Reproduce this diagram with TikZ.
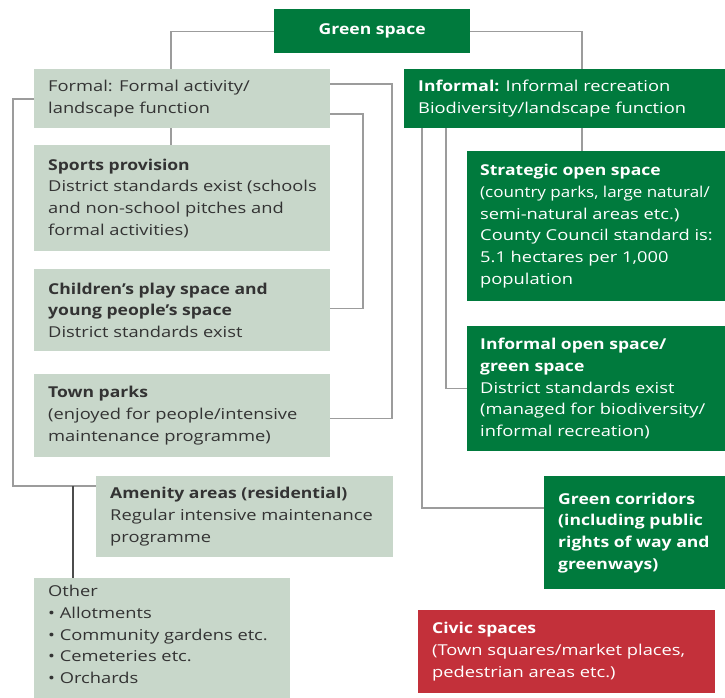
\documentclass[tikz,border=0pt]{standalone}
\usepackage{fontspec}
\setmainfont{Open Sans}[FakeStretch=1.22, BoldFeatures={FakeStretch=1.17}]
\definecolor{dg}{HTML}{007A3D}
\definecolor{lg}{HTML}{C8D7CA}
\definecolor{rd}{HTML}{C3303A}
\definecolor{tx}{HTML}{333333}
\definecolor{ln}{HTML}{9C9C9C}
\begin{document}
\begin{tikzpicture}[x=1pt,y=-1pt,
  boxL/.style={fill=lg, draw=none, inner sep=0, anchor=north west},
  boxG/.style={fill=dg, draw=none, inner sep=0, anchor=north west},
  boxR/.style={fill=rd, draw=none, inner sep=0, anchor=north west},
  txt/.style={anchor=west, align=left, inner sep=0, font=\fontsize{15}{21.7}\selectfont},
  txtL/.style={txt, text=tx},
  txtW/.style={txt, text=white},
  conn/.style={draw=ln, line width=1.3pt},
  connD/.style={draw=black!70, line width=1.8pt}]
\useasboundingbox (0,0) rectangle (725,698);
\clip (0,0) rectangle (725,698);

% boxes
\node[boxG, minimum width=196, minimum height=44] (gs) at (274,9) {};
\node[boxL, minimum width=296, minimum height=59] (formal) at (34,69) {};
\node[boxL, minimum width=296, minimum height=106] (sports) at (34,145) {};
\node[boxL, minimum width=296, minimum height=82] (children) at (34,269) {};
\node[boxL, minimum width=296, minimum height=83] (town) at (34,374) {};
\node[boxL, minimum width=297, minimum height=81] (amenity) at (96,476) {};
\node[boxL, minimum width=256, minimum height=128] (other) at (34,578) {};
\node[boxG, minimum width=331, minimum height=59] (informal) at (404,69) {};
\node[boxG, minimum width=268, minimum height=150] (strategic) at (467,151) {};
\node[boxG, minimum width=268, minimum height=125] (ios) at (467,326) {};
\node[boxG, minimum width=191, minimum height=113] (gc) at (544,476) {};
\node[boxR, minimum width=297, minimum height=83] (civic) at (418,610) {};

% texts
\node[txtW, anchor=center, font=\fontsize{15}{21.7}\selectfont\bfseries] (gs-t) at (gs.center) {Green space};
\node[txtL] (formal-t) at ([xshift=14]formal.west) {Formal: Formal activity/\\landscape function};
\node[txtL] (sports-t) at ([xshift=14]sports.west) {\textbf{Sports provision}\\District standards exist (schools\\and non-school pitches and\\formal activities)};
\node[txtL] (children-t) at ([xshift=14]children.west) {\textbf{Children’s play space and}\\\textbf{young people’s space}\\District standards exist};
\node[txtL] (town-t) at ([xshift=14]town.west) {\textbf{Town parks}\\(enjoyed for people/intensive\\maintenance programme)};
\node[txtL] (amenity-t) at ([xshift=14]amenity.west) {\textbf{Amenity areas (residential)}\\Regular intensive maintenance\\programme};
\node[txtL, anchor=north west] (other-t) at ([xshift=14,yshift=-7]other.north west) {Other\\• Allotments\\• Community gardens etc.\\• Cemeteries etc.\\• Orchards};
\node[txtW] (informal-t) at ([xshift=14]informal.west) {\textbf{Informal:} Informal recreation\\Biodiversity/landscape function};
\node[txtW] (strategic-t) at ([xshift=13]strategic.west) {\textbf{Strategic open space}\\\scalebox{0.93}[1]{(country parks, large natural/}\\semi-natural areas etc.)\\County Council standard is:\\5.1 hectares per 1,000\\population};
\node[txtW] (ios-t) at ([xshift=13]ios.west) {\textbf{Informal open space/}\\\textbf{green space}\\District standards exist\\(managed for biodiversity/\\informal recreation)};
\node[txtW, font=\fontsize{15}{21.7}\selectfont\bfseries] (gc-t) at ([xshift=14]gc.west) {Green corridors\\(including public\\rights of way and\\greenways)};
\node[txtW] (civic-t) at ([xshift=14]civic.west) {\textbf{Civic spaces}\\(Town squares/market places,\\pedestrian areas etc.)};

% connector coordinates
\coordinate (jL) at (171,0);
\coordinate (jR) at (582,0);
\coordinate (r1) at (392,84);
\coordinate (r2) at (363,114);
\coordinate (lx) at (13,99);
\coordinate (am) at ([yshift=-10]amenity.north west);
\coordinate (ox) at (73,0);
\coordinate (i1) at (422,508);
\coordinate (i2) at (446,389);

% connectors
\draw[conn] (gs.west) -| (jL |- formal.north);
\draw[conn] (jL |- formal.south) -- (jL |- sports.north);
\draw[conn] (gs.east) -| (jR |- informal.north);
\draw[conn] (jR |- informal.south) -- (jR |- strategic.north);
\draw[conn] (formal.east |- r1) -| ([yshift=-2.5]r1 |- town.east) -- ([yshift=-2.5]town.east);
\draw[conn] (formal.east |- r2) -| ([yshift=2]r2 |- children.east) -- ([yshift=2]children.east);
\draw[conn] (formal.west |- lx) -| (lx |- am) -- (am);
\draw[connD] (ox |- am) -- (ox |- other.north);
\draw[conn] (i1 |- informal.south) |- (gc.west |- i1);
\draw[conn] (i2 |- informal.south) |- (ios.west);
\end{tikzpicture}
\end{document}
